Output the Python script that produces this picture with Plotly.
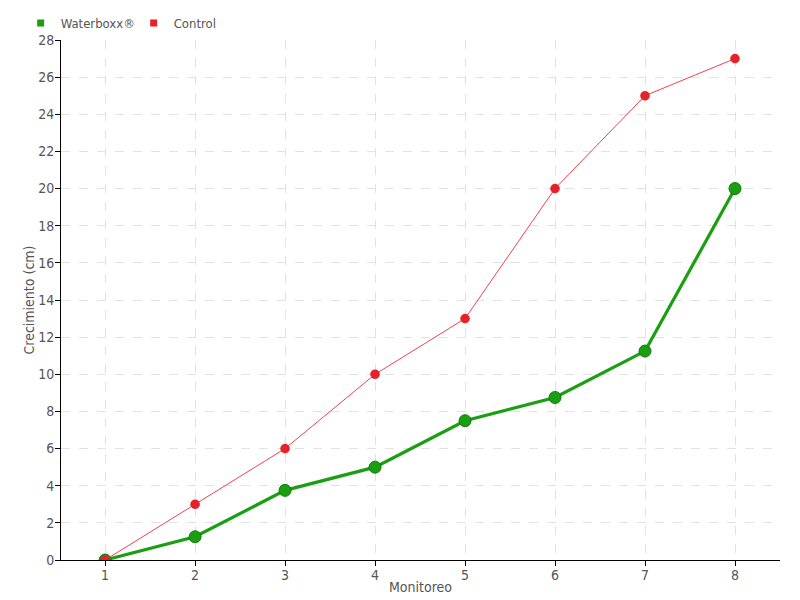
import plotly.graph_objects as go

monitoreo = [1, 2, 3, 4, 5, 6, 7, 8]
waterboxx = [0, 1.25, 3.75, 5, 7.5, 8.75, 11.25, 20]
control = [0, 3, 6, 10, 13, 20, 25, 27]
y_ticks = list(range(0, 29, 2))

FONT = "DejaVu Sans Condensed, sans-serif"
GREEN = "#1a9e12"
RED = "#e8202a"

fig = go.Figure()
fig.add_trace(go.Scatter(
    x=monitoreo, y=waterboxx, mode="lines+markers", name="Waterboxx®",
    line=dict(color=GREEN, width=3.2),
    marker=dict(size=12, color=GREEN, line=dict(color="#137a0d", width=1)),
    showlegend=False))
fig.add_trace(go.Scatter(
    x=monitoreo, y=control, mode="lines+markers", name="Control",
    line=dict(color="#f0424c", width=1),
    marker=dict(size=9, color=RED, line=dict(color="#c8161f", width=0.5)),
    showlegend=False))
# legend entries with square swatches
fig.add_trace(go.Scatter(x=[None], y=[None], mode="markers", name="Waterboxx®",
                         marker=dict(symbol="square", size=7, color=GREEN)))
fig.add_trace(go.Scatter(x=[None], y=[None], mode="markers", name="Control",
                         marker=dict(symbol="square", size=7, color=RED)))

# page body has an 8px margin, so the figure is sized/offset accordingly
fig.update_layout(
    width=792, height=592,
    margin=dict(l=53, r=20, t=32, b=40, autoexpand=False),
    plot_bgcolor="white", paper_bgcolor="white",
    font=dict(family=FONT, size=14, color="#555555"),
    legend=dict(orientation="h", xref="container", yref="container",
                x=0.016, y=1.0, xanchor="left", yanchor="top",
                font=dict(size=13, color="#555555"), itemwidth=30,
                entrywidth=68, bgcolor="rgba(0,0,0,0)"),
    xaxis=dict(range=[0.51, 8.5], tickvals=monitoreo, showline=True, linecolor="black",
               linewidth=1, ticks="outside", ticklen=5, tickcolor="black",
               showgrid=True, gridcolor="#e2e2e2", griddash="dash", zeroline=False,
               automargin=False, ticklabelstandoff=-3,
               title=dict(text="Monitoreo", standoff=0, font=dict(size=14))),
    yaxis=dict(range=[0, 28], tickvals=y_ticks, showline=True, linecolor="black",
               linewidth=1, ticks="outside", ticklen=5, tickcolor="black",
               showgrid=True, gridcolor="#e2e2e2", griddash="dash", zeroline=False,
               automargin=False, ticklabelstandoff=-2,
               title=dict(text="Crecimiento (cm)", standoff=0, font=dict(size=14))),
)
fig.write_html("out.html")
